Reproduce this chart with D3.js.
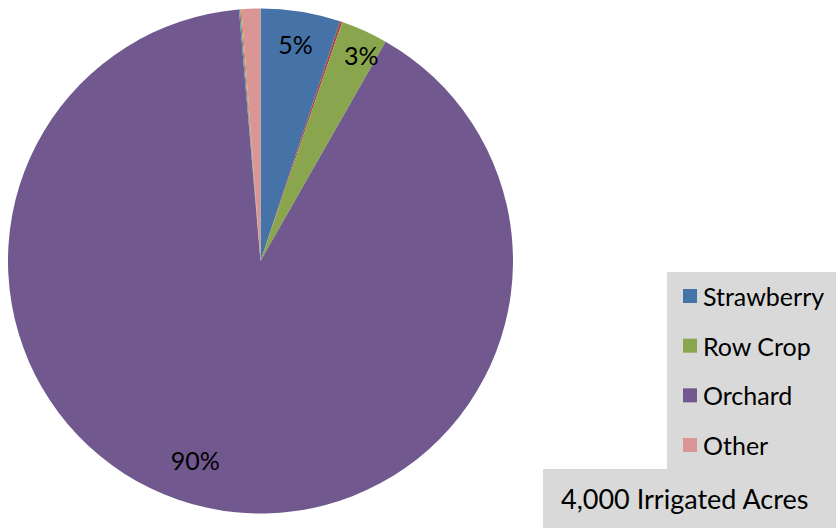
<!DOCTYPE html>
<html><head><meta charset="utf-8">
<script src="https://cdn.jsdelivr.net/npm/d3@7"></script>
<style>html,body{margin:0;padding:0;background:#fff;}svg{display:block;}</style>
</head><body>
<svg id="chart" width="836" height="528"></svg>
<script>
// Data
const categories = ["Strawberry", "", "Row Crop", "Orchard", "", "", "Other"];
const values = [5.1, 0.15, 3.0, 90.4, 0.08, 0.08, 1.2];
const colors = ["#4572A7", "#AA4643", "#89A54E", "#71588F", "#4198AF", "#DB843D", "#D99694"];
const showLabel = [true, false, true, true, false, false, false];
const legendItems = ["Strawberry", "Row Crop", "Orchard", "Other"];
const footnote = "4,000 Irrigated Acres";

const svg = d3.select("#chart");
const font = "Lato, 'Open Sans', sans-serif";
const cx = 260.5, cy = 261, r = 252.5;
const total = d3.sum(values);
const data = categories.map((c, i) => ({name: c, value: values[i], color: colors[i], label: showLabel[i]}));

const pie = d3.pie().value(d => d.value).sort(null);
const arc = d3.arc().innerRadius(0).outerRadius(r);
const arcs = pie(data);

const g = svg.append("g").attr("transform", `translate(${cx},${cy})`);
g.selectAll("path.slice").data(arcs).join("path")
  .attr("class", "slice")
  .attr("d", arc)
  .attr("fill", d => d.data.color);

// best-fit style label placement: small slices pushed outward, large slice closer to center
function labelPos(d) {
  const span = d.endAngle - d.startAngle;
  let a = (d.startAngle + d.endAngle) / 2;
  let rr = r * 0.87;
  if (span > Math.PI) { a += 0.1; rr = r * 0.83; }
  else if (span < 0.25) { a += 0.03; rr = r * 0.91; }
  return [Math.sin(a) * rr, -Math.cos(a) * rr];
}

g.selectAll("text.lbl").data(arcs.filter(d => d.data.label)).join("text")
  .attr("class", "lbl")
  .attr("transform", d => `translate(${labelPos(d)})`)
  .attr("text-anchor", "middle")
  .attr("dominant-baseline", "central")
  .attr("font-family", font)
  .attr("font-size", 25)
  .attr("fill", "#000")
  .text(d => Math.round(d.data.value / total * 100) + "%");

// Legend box
svg.append("rect").attr("x", 667).attr("y", 272).attr("width", 169).attr("height", 197).attr("fill", "#D9D9D9");
svg.append("rect").attr("x", 543).attr("y", 469).attr("width", 293).attr("height", 59).attr("fill", "#D9D9D9");

const legendColor = d3.scaleOrdinal().domain(categories.filter(c => c)).range(
  categories.map((c, i) => c ? colors[i] : null).filter(c => c));
const ly = d3.scalePoint().domain(legendItems).range([296, 445]);
const lg = svg.append("g").selectAll("g").data(legendItems).join("g")
  .attr("transform", d => `translate(683,${ly(d)})`);
lg.append("rect").attr("x", 0).attr("y", -7).attr("width", 14).attr("height", 14)
  .attr("fill", d => legendColor(d));
lg.append("text").attr("x", 20).attr("y", 0).attr("dominant-baseline", "central")
  .attr("font-family", font).attr("font-size", 25).attr("fill", "#000").text(d => d);

svg.append("text").attr("x", 561).attr("y", 498).attr("dominant-baseline", "central")
  .attr("font-family", font).attr("font-size", 27).attr("fill", "#000").text(footnote);
</script>
</body></html>
